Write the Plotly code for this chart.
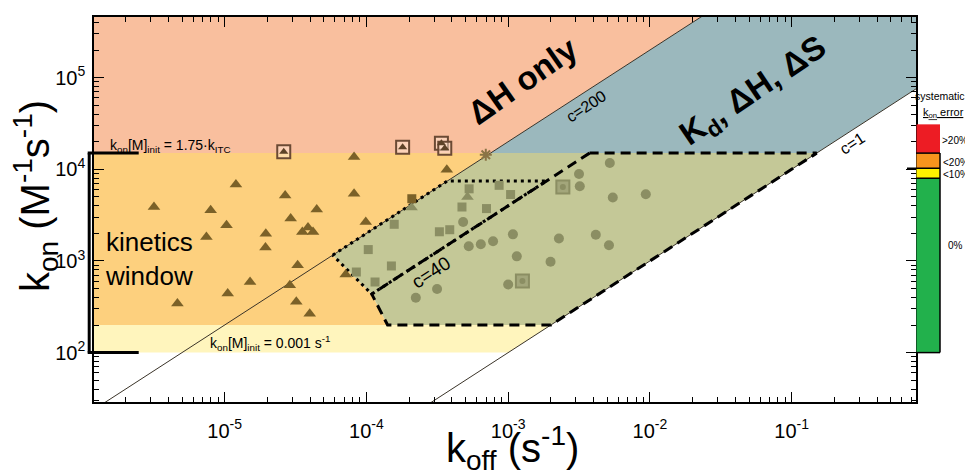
import plotly.graph_objects as go

# ---------------- data ----------------
M_INIT = 1e-5            # M, titrant concentration
KON_HIGH = 1.5e4         # kon[M]init = 1.75 kITC
KON_LOW = 200.0          # lower bound of kinetics window
KON_MIN = 100.0          # kon[M]init = 0.001 s-1
KON_DOT = 7430.0         # top of dotted region
C_LINES = [200, 40, 1]
B_PT = (1.09e-4, 435.0)  # corner of dashed/dotted regions
C_PT = (1.41e-4, 200.0)
F_PT = (5.78e-5, 1156.0)

tri_koff = [3.17e-6, 7.96e-6, 1.20e-5, 1.03e-5, 2.67e-5, 2.92e-5, 1.95e-5, 7.43e-6, 1.94e-5,
            3.53e-5, 3.87e-5, 4.20e-5, 4.46e-5, 3.27e-5, 1.51e-5, 2.88e-5, 1.05e-5, 3.20e-5,
            4.64e-6, 3.98e-5, 8.18e-5, 3.69e-4, 8.18e-5, 9.89e-5, 7.14e-5]
tri_kon = [3875, 3565, 6800, 2450, 5160, 2900, 1985, 1825, 1397, 2070, 2310, 2070, 3630, 896,
           589, 542, 440, 358, 343, 265, 13600, 9900, 5420, 2660, 710]

tri_in_koff = [2.08e-4, 5.16e-4]
tri_in_kon = [3820, 4980]

boxtri_koff = [2.61e-5, 1.80e-4, 3.38e-4, 3.57e-4]
boxtri_kon = [15500, 17400, 19200, 16900]

star_koff = [6.95e-4]
star_kon = [14400]

sqb_koff = [2.09e-4]
sqb_kon = [4770]

sq_koff = [5.30e-4, 4.72e-4, 7.03e-4, 8.63e-4, 1.04e-3, 1.57e-4, 3.27e-4, 3.87e-4, 1.03e-4,
           1.50e-4, 8.49e-5, 1.15e-4]
sq_kon = [6120, 3875, 3725, 6680, 5300, 2510, 2080, 2190, 1330, 881, 757, 589]

boxg_koff = [2.43e-3, 1.26e-3]
boxg_kon = [6400, 604]

circ_koff = [5.21e-3, 3.16e-3, 3.20e-3, 5.47e-3, 9.35e-3, 4.81e-4, 5.27e-4, 6.41e-4, 7.82e-4,
             1.08e-3, 2.28e-3, 4.15e-3, 5.14e-3, 1.15e-3, 1.99e-3, 1.00e-3, 3.15e-4, 2.23e-4]
circ_kon = [11700, 8870, 6520, 4910, 5330, 2660, 1446, 1518, 1637, 1950, 1754, 1928, 1483,
            1122, 978, 552, 494, 396]

# systematic kon error bar (kon boundaries)
err_bounds = [100, 7980, 10240, 15000, 30900]
err_labels = ["0%", "<10%", "<20%", ">20%"]
err_colors = ["#22b14c", "#fff200", "#f7941d", "#ed1c24"]

x_tickvals = [1e-5, 1e-4, 1e-3, 1e-2, 1e-1]
x_ticktext = ["10<sup>-5</sup>", "10<sup>-4</sup>", "10<sup>-3</sup>", "10<sup>-2</sup>", "10<sup>-1</sup>"]
y_tickvals = [1e2, 1e3, 1e4, 1e5]
y_ticktext = ["10<sup>2</sup>", "10<sup>3</sup>", "10<sup>4</sup>", "10<sup>5</sup>"]

XR = [-5.922, -0.123]
YR = [1.461, 5.661]
X_MIN, X_MAX = 10 ** XR[0], 10 ** XR[1]
Y_MAX = 10 ** YR[1]


def koff_c(kon, c):
    return kon * M_INIT / c


def kon_c(koff, c):
    return c * koff / M_INIT


FONT = "Liberation Sans, Arial, sans-serif"
fig = go.Figure()


def poly(pts, color):
    xs = [p[0] for p in pts] + [pts[0][0]]
    ys = [p[1] for p in pts] + [pts[0][1]]
    fig.add_trace(go.Scatter(x=xs, y=ys, mode="lines", fill="toself", fillcolor=color,
                             line=dict(width=0, color=color), hoverinfo="skip", showlegend=False))


c200, c40, c1 = C_LINES
G0 = (koff_c(KON_HIGH, c200), KON_HIGH)
E = (koff_c(KON_HIGH, c1), KON_HIGH)
D = (koff_c(KON_LOW, c1), KON_LOW)
A = (koff_c(KON_HIGH, c40), KON_HIGH)
G = (koff_c(KON_DOT, c200), KON_DOT)
H = (koff_c(KON_DOT, c40), KON_DOT)

# salmon (dH only)
poly([(X_MIN, KON_HIGH), (X_MIN, Y_MAX), (koff_c(Y_MAX, c200), Y_MAX), G0], "#f9bf9e")
# blue (Kd, dH, dS)
poly([G0, (koff_c(Y_MAX, c200), Y_MAX), (X_MAX, Y_MAX), (X_MAX, kon_c(X_MAX, c1)), E], "#9bb8bd")
# orange kinetics window
poly([(X_MIN, KON_LOW), (X_MIN, KON_HIGH), G0, F_PT, B_PT, C_PT], "#fdd07e")
# light yellow strip
poly([(X_MIN, KON_MIN), (X_MIN, KON_LOW), D, (koff_c(KON_MIN, c1), KON_MIN)], "#fff5bd")
# olive overlap
poly([G0, E, D, C_PT, B_PT, F_PT], "#c4c897")

# c lines (thin)
for c in (c200, c1):
    xs = [1e-8, 10.0]
    fig.add_trace(go.Scatter(x=xs, y=[kon_c(v, c) for v in xs], mode="lines",
                             line=dict(color="#3a3328", width=1), hoverinfo="skip", showlegend=False))

# dashed region
dpts = [A, B_PT, C_PT, D, E, A]
fig.add_trace(go.Scatter(x=[p[0] for p in dpts], y=[p[1] for p in dpts], mode="lines",
                         line=dict(color="black", width=3, dash="10px,6px"),
                         hoverinfo="skip", showlegend=False))
# dotted region
opts = [F_PT, G, H, B_PT, F_PT]
fig.add_trace(go.Scatter(x=[p[0] for p in opts], y=[p[1] for p in opts], mode="lines",
                         line=dict(color="black", width=3, dash="3px,4px"),
                         hoverinfo="skip", showlegend=False))

BROWN = "#7b6128"
GRAY = "#8b8e63"


def markers(xs, ys, symbol, color, size, lw=0, lc=None):
    fig.add_trace(go.Scatter(x=xs, y=ys, mode="markers", hoverinfo="skip", showlegend=False,
                             marker=dict(symbol=symbol, color=color, size=size,
                                         line=dict(width=lw, color=lc or color))))


markers(tri_koff, tri_kon, "triangle-up", BROWN, 11)
markers(tri_in_koff, tri_in_kon, "triangle-up", GRAY, 11)
markers(sqb_koff, sqb_kon, "square", BROWN, 9)
markers(sq_koff, sq_kon, "square", GRAY, 9)
markers(circ_koff, circ_kon, "circle", GRAY, 10)
markers(boxg_koff, boxg_kon, "square", "#a3a67b", 13, 2, GRAY)
markers(boxg_koff, boxg_kon, "circle", GRAY, 6)
markers(boxtri_koff, boxtri_kon, "square", "rgba(255,230,210,0.5)", 13, 2, "#6b4a34")
markers(boxtri_koff, boxtri_kon, "triangle-up", "#5e4328", 8)
markers(star_koff, star_kon, "asterisk-open", "#8a7446", 10, 2, "#8a7446")


# page-pixel -> paper helpers (plot area on page: x 94.3..916, y 16.7..401.7)
def px(x):
    return (x - 94.3) / 821.7


def py(y):
    return (401.7 - y) / 385.0


shapes = []
# kinetics window bracket
for yv in (KON_HIGH, KON_MIN):
    shapes.append(dict(type="line", xref="paper", yref="y", x0=px(88), x1=px(139), y0=yv, y1=yv,
                       line=dict(color="black", width=3)))
shapes.append(dict(type="line", xref="paper", yref="y", x0=px(89.5), x1=px(89.5), y0=KON_MIN, y1=KON_HIGH,
                   line=dict(color="black", width=3)))
# systematic error bar
for i, col in enumerate(err_colors):
    shapes.append(dict(type="rect", xref="paper", yref="y", x0=px(916.5), x1=px(940),
                       y0=err_bounds[i], y1=err_bounds[i + 1], fillcolor=col, line=dict(width=0),
                       layer="above"))
shapes.append(dict(type="line", xref="paper", yref="y", x0=px(940), x1=px(940), y0=err_bounds[0],
                   y1=err_bounds[3], line=dict(color="black", width=1.5)))
for yv, x0 in ((err_bounds[0], 916), (err_bounds[1], 916), (err_bounds[2], 907), (err_bounds[3], 916)):
    shapes.append(dict(type="line", xref="paper", yref="y", x0=px(x0), x1=px(940), y0=yv, y1=yv,
                       line=dict(color="black", width=1.5)))

ann = []


def text(x, y, t, size, angle=0, xanchor="center", color="black"):
    ann.append(dict(x=px(x), y=py(y), xref="paper", yref="paper", text=t, showarrow=False,
                    textangle=angle, xanchor=xanchor, yanchor="middle",
                    font=dict(family=FONT, size=size, color=color)))


text(108, 146, "k<sub>on</sub>[M]<sub>init</sub> = 1.75·k<sub>ITC</sub>", 14, xanchor="left")
text(208, 343, "k<sub>on</sub>[M]<sub>init</sub> = 0.001 s<sup>-1</sup>", 14, xanchor="left")
text(103, 259, "kinetics<br>window", 26, xanchor="left")
text(523, 80, "<b>ΔH only</b>", 33, angle=-35)
text(754, 92, "<b>K<sub>d</sub>, ΔH, ΔS</b>", 33, angle=-34)
text(586, 106, "c=200", 16, angle=-33)
text(431, 272, "c=40", 19, angle=-33)
text(852, 143, "c=1", 16, angle=-33)
text(940, 96, "systematic", 10.5)
text(943, 113, "<u>k<sub>on</sub> error</u>", 11)
text(955, 140, err_labels[3], 10)
text(956, 162, err_labels[2], 10)
text(956, 174, err_labels[1], 10)
text(955, 245, err_labels[0], 10)
# axis titles
text(513, 448, "k<sub>off</sub> (s<sup>-1</sup>)", 40)
text(36, 196, "k<sub>on</sub> (M<sup>-1</sup>s<sup>-1</sup>)", 40, angle=-90)

axis_common = dict(type="log", showgrid=False, zeroline=False, showline=True, linecolor="black",
                   linewidth=1.5, mirror="ticks", ticks="inside", ticklen=10, tickwidth=1.2,
                   tickcolor="black", tickfont=dict(family=FONT, size=20, color="black"),
                   automargin=False,
                   minor=dict(ticks="inside", ticklen=5, tickwidth=1, tickcolor="black",
                              dtick="D1", showgrid=False))

fig.update_xaxes(range=XR, tickmode="array", tickvals=x_tickvals, ticktext=x_ticktext,
                 ticklabelstandoff=10, **axis_common)
fig.update_yaxes(range=YR, tickmode="array", tickvals=y_tickvals, ticktext=y_ticktext,
                 ticklabelstandoff=3, **axis_common)

# page body has an 8px margin: figure is offset by 8px, so margins are reduced to match
fig.update_layout(width=965, height=468,
                  margin=dict(l=86, r=57, t=9, b=74, pad=0, autoexpand=False),
                  plot_bgcolor="white", paper_bgcolor="white", showlegend=False,
                  shapes=shapes, annotations=ann, font=dict(family=FONT))

fig.write_html("out.html")
